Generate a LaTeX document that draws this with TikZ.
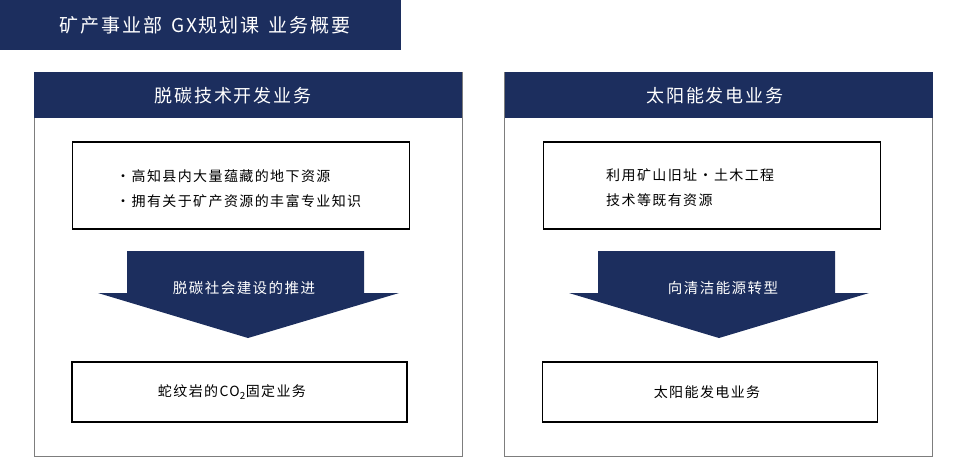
\documentclass[tikz,border=0pt]{standalone}
\usepackage{fontspec}
\usepackage{xcolor}
\setmainfont{Noto Sans CJK SC}[LetterSpace=10]
\definecolor{navy}{RGB}{28,46,94}
\definecolor{panelgray}{RGB}{125,125,125}

\begin{document}
\begin{tikzpicture}[x=1pt,y=-1pt,
    bar/.style={fill=navy,draw=none,inner sep=0pt},
    panel/.style={draw=panelgray,line width=1pt,inner sep=0pt,minimum width=428pt,minimum height=384pt},
    infobox/.style={draw=black,line width=1.3pt,inner sep=0pt,minimum width=337pt,minimum height=87pt},
    resultbox/.style={draw=black,line width=1.3pt,inner sep=0pt,minimum width=335pt,minimum height=60pt},
    headtext/.style={text=white,inner sep=0pt,font=\fontsize{18}{20}\selectfont},
    bodytext/.style={inner sep=0pt,align=left,font=\fontsize{14}{25}\selectfont},
    arrowtext/.style={text=white,inner sep=0pt,font=\fontsize{14.5}{18}\selectfont},
    resulttext/.style={inner sep=0pt,font=\fontsize{14}{17}\selectfont}]
\useasboundingbox (0,0) rectangle (960,475);
\node[bar,minimum width=401pt,minimum height=50pt] (title) at (200.5,25) {};
\node[headtext,font=\fontsize{19}{20}\selectfont] (titletext) at (205,25) {矿产事业部\hspace{9pt}GX规划课\hspace{9pt}业务概要};

\node[panel] (leftpanel) at (248,264) {};
\node[bar,minimum width=428pt,minimum height=46pt] (lefthead) at (248,95) {};
\node[headtext] (leftheadtext) at (233,96) {脱碳技术开发业务};
\node[infobox] (leftinfo) at (241,185.5) {};
\node[bodytext,anchor=west] (leftinfotext) at (116,188.5) {·高知县内大量蕴藏的地下资源\\·拥有关于矿产资源的丰富专业知识};
\fill[navy] (127,251) -- (364,251) -- (364,293) -- (399,293) -- (248,338) -- (98,293) -- (127,293) -- cycle;
\node[arrowtext] (leftarrow) at (244,288) {脱碳社会建设的推进};
\node[resultbox] (leftresult) at (239.5,392) {};
\node[resulttext] (leftresulttext) at (232,392) {蛇纹岩的CO\textsubscript{2}固定业务};

\node[panel] (rightpanel) at (718.5,264) {};
\node[bar,minimum width=428pt,minimum height=46pt] (righthead) at (718.5,95) {};
\node[headtext] (rightheadtext) at (715,96) {太阳能发电业务};
\node[infobox] (rightinfo) at (712,185.5) {};
\node[bodytext,anchor=west] (rightinfotext) at (606,188) {利用矿山旧址·土木工程\\技术等既有资源};
\fill[navy] (598,251) -- (835,251) -- (835,293) -- (869,293) -- (719,338) -- (569,293) -- (598,293) -- cycle;
\node[arrowtext] (rightarrow) at (723,288) {向清洁能源转型};
\node[resultbox] (rightresult) at (710,392) {};
\node[resulttext] (rightresulttext) at (707,392) {太阳能发电业务};
\end{tikzpicture}
\end{document}
